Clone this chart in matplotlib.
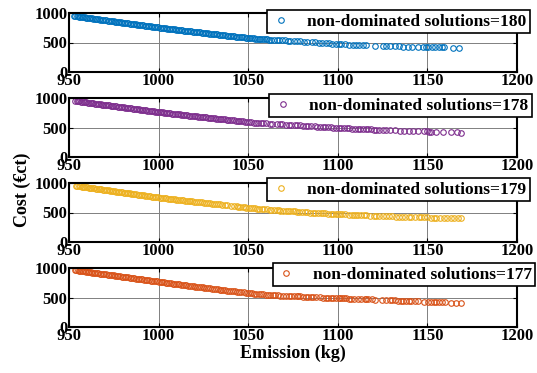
import matplotlib
matplotlib.use('Agg')
import matplotlib.pyplot as plt

# series 1 (blue), 180 solutions
emission_1 = [953.0, 953.6, 954.3, 955.1, 955.8, 956.4, 957.2, 958.0, 958.7, 959.5,
              960.3, 961.0, 961.9, 962.6, 963.4, 964.3, 965.0, 965.8, 966.7, 967.5,
              968.2, 969.1, 969.9, 970.8, 971.5, 972.3, 973.2, 974.0, 974.9, 975.6,
              976.4, 977.3, 978.1, 979.0, 979.8, 980.5, 981.4, 982.2, 983.1, 983.9,
              984.7, 985.6, 986.3, 987.2, 988.0, 988.9, 989.7, 990.5, 991.4, 992.2,
              993.0, 993.9, 994.7, 995.5, 996.4, 997.2, 998.0, 998.9, 999.7, 1000.6,
              1001.4, 1002.2, 1003.1, 1003.9, 1004.8, 1005.6, 1006.4, 1007.3, 1008.1, 1009.0,
              1009.8, 1010.6, 1011.5, 1012.3, 1013.2, 1014.0, 1014.8, 1015.7, 1016.5, 1017.4,
              1018.2, 1019.0, 1019.9, 1020.7, 1021.6, 1022.4, 1023.3, 1024.1, 1025.0, 1025.8,
              1026.7, 1027.5, 1028.4, 1029.2, 1030.1, 1031.0, 1031.8, 1032.7, 1033.5, 1034.4,
              1035.3, 1036.1, 1037.0, 1037.9, 1038.8, 1039.6, 1040.5, 1041.4, 1042.3, 1043.1,
              1044.0, 1044.9, 1045.8, 1046.7, 1047.6, 1048.5, 1049.4, 1050.3, 1051.2, 1052.1,
              1053.0, 1054.0, 1054.9, 1055.8, 1056.8, 1057.7, 1058.7, 1059.7, 1060.7, 1061.8,
              1063.0, 1064.5, 1066.0, 1067.2, 1068.8, 1070.5, 1072.0, 1073.6, 1075.5, 1077.0,
              1079.0, 1081.2, 1083.0, 1085.5, 1087.0, 1089.5, 1091.0, 1093.5, 1095.0, 1097.0,
              1099.0, 1100.5, 1102.0, 1104.0, 1106.0, 1108.5, 1110.0, 1112.0, 1114.0, 1116.0,
              1121.0, 1125.0, 1127.0, 1129.0, 1132.0, 1134.0, 1136.5, 1139.0, 1141.5, 1144.5,
              1147.5, 1150.5, 1152.5, 1154.5, 1156.5, 1159.0, 1164.5, 1167.5, 1158.0, 1149.0]
cost_1 = [950, 947, 944, 941, 938, 935, 932, 928, 925, 922,
          918, 915, 911, 908, 905, 901, 898, 894, 891, 887,
          884, 880, 877, 873, 870, 867, 863, 860, 856, 853,
          850, 846, 843, 839, 836, 833, 829, 826, 823, 819,
          816, 813, 810, 806, 803, 799, 796, 793, 789, 786,
          783, 779, 776, 773, 769, 766, 763, 759, 756, 753,
          750, 747, 743, 740, 737, 734, 731, 727, 724, 721,
          718, 715, 712, 709, 706, 703, 700, 697, 694, 691,
          688, 685, 682, 679, 676, 673, 670, 667, 664, 661,
          657, 654, 651, 648, 645, 642, 639, 636, 633, 630,
          627, 624, 621, 618, 615, 612, 609, 606, 603, 600,
          597, 595, 592, 589, 586, 583, 580, 577, 574, 571,
          568, 566, 563, 561, 559, 557, 555, 553, 551, 549,
          547, 545, 542, 540, 537, 534, 531, 528, 524, 521,
          517, 513, 509, 504, 501, 496, 493, 488, 485, 481,
          477, 474, 472, 469, 466, 463, 461, 458, 456, 453,
          447, 443, 441, 439, 436, 434, 432, 430, 428, 426,
          424, 422, 421, 419, 418, 417, 413, 412, 416, 423]

# series 2 (purple), 178 solutions
emission_2 = [953.5, 954.2, 955.0, 955.7, 956.5, 957.3, 958.1, 958.8, 959.6, 960.4,
              961.2, 962.0, 962.8, 963.6, 964.4, 965.2, 966.0, 966.8, 967.6, 968.4,
              969.2, 970.0, 970.8, 971.6, 972.4, 973.2, 974.0, 974.8, 975.7, 976.5,
              977.3, 978.1, 978.9, 979.7, 980.6, 981.4, 982.2, 983.0, 983.9, 984.7,
              985.5, 986.3, 987.2, 988.0, 988.8, 989.7, 990.5, 991.3, 992.2, 993.0,
              993.8, 994.7, 995.5, 996.4, 997.2, 998.0, 998.9, 999.7, 1000.6, 1001.4,
              1002.3, 1003.1, 1004.0, 1004.8, 1005.7, 1006.5, 1007.4, 1008.2, 1009.1, 1010.0,
              1010.8, 1011.7, 1012.5, 1013.4, 1014.3, 1015.1, 1016.0, 1016.9, 1017.8, 1018.6,
              1019.5, 1020.4, 1021.3, 1022.2, 1023.1, 1024.0, 1024.9, 1025.8, 1026.7, 1027.6,
              1028.5, 1029.4, 1030.4, 1031.3, 1032.2, 1033.2, 1034.1, 1035.1, 1036.0, 1037.0,
              1038.0, 1039.0, 1040.0, 1041.0, 1042.0, 1043.0, 1044.1, 1045.1, 1046.2, 1047.3,
              1048.4, 1049.5, 1050.6, 1051.8, 1053.0, 1054.3, 1055.6, 1057.0,
              1058.5, 1060.0, 1062.0, 1063.5, 1066.0, 1067.5, 1069.0, 1071.0, 1072.5, 1074.0,
              1076.0, 1077.5, 1079.0, 1080.5, 1082.0, 1083.5, 1085.0, 1087.0, 1088.5, 1090.0,
              1091.5, 1093.0, 1094.5, 1096.0, 1097.5, 1099.0, 1100.5, 1102.0, 1103.5, 1105.0,
              1106.5, 1108.0, 1109.5, 1111.0, 1112.5, 1114.0, 1115.5, 1117.0, 1118.5, 1120.0,
              1121.5, 1123.0, 1125.0, 1127.0, 1129.0, 1132.0, 1134.5, 1137.0, 1139.5, 1142.0,
              1145.0, 1148.0, 1149.5, 1151.0, 1152.0, 1155.0, 1158.5, 1163.0, 1166.5, 1168.5]
cost_2 = [951, 948, 945, 942, 939, 936, 932, 929, 926, 923,
          919, 916, 913, 909, 906, 903, 899, 896, 893, 889,
          886, 883, 879, 876, 873, 869, 866, 863, 859, 856,
          853, 849, 846, 843, 839, 836, 833, 829, 826, 823,
          820, 816, 813, 810, 806, 803, 800, 797, 793, 790,
          787, 784, 780, 777, 774, 771, 767, 764, 761, 758,
          755, 752, 748, 745, 742, 739, 736, 733, 730, 727,
          724, 721, 718, 715, 712, 709, 706, 703, 700, 697,
          694, 691, 688, 685, 682, 679, 676, 673, 670, 667,
          664, 661, 658, 655, 652, 649, 646, 643, 640, 637,
          633, 630, 626, 623, 619, 616, 612, 609, 605, 602,
          598, 595, 591, 588, 584, 581, 578, 575,
          572, 569, 565, 562, 558, 555, 552, 549, 546, 543,
          540, 537, 534, 531, 528, 525, 522, 519, 516, 513,
          510, 507, 504, 502, 499, 497, 494, 492, 489, 487,
          485, 482, 480, 477, 475, 473, 471, 469, 467, 465,
          463, 461, 458, 456, 453, 450, 447, 445, 443, 440,
          437, 434, 433, 431, 430, 427, 424, 420, 417, 415]

# series 3 (yellow), 179 solutions
emission_3 = [954.0, 954.7, 955.4, 956.2, 957.0, 957.7, 958.5, 959.3, 960.1, 960.9,
              961.7, 962.5, 963.3, 964.1, 964.9, 965.7, 966.5, 967.3, 968.1, 968.9,
              969.7, 970.6, 971.4, 972.2, 973.0, 973.9, 974.7, 975.5, 976.4, 977.2,
              978.0, 978.9, 979.7, 980.6, 981.4, 982.3, 983.1, 984.0, 984.8, 985.7,
              986.5, 987.4, 988.3, 989.1, 990.0, 990.9, 991.7, 992.6, 993.5, 994.4,
              995.3, 996.2, 997.0, 997.9, 998.8, 999.7, 1000.6, 1001.5, 1002.4, 1003.4,
              1004.3, 1005.2, 1006.1, 1007.1, 1008.0, 1009.0, 1009.9, 1010.9, 1011.8, 1012.8,
              1013.8, 1014.8, 1015.8, 1016.8, 1017.8, 1018.8, 1019.9, 1020.9, 1022.0, 1023.0,
              1024.1, 1025.2, 1026.3, 1027.4, 1028.5, 1029.6, 1030.8, 1032.0, 1033.2, 1034.4,
              1035.6, 1036.9, 1038.2,
              1040.5, 1042.0, 1043.5, 1044.5, 1045.5, 1047.0, 1048.0, 1049.0, 1050.5, 1051.5,
              1052.5, 1054.0, 1055.0, 1056.0, 1057.5, 1059.0, 1060.5, 1062.0, 1063.0, 1064.5,
              1066.0, 1067.0, 1068.0, 1069.5, 1071.0, 1072.0, 1073.5, 1075.0, 1076.0, 1077.0,
              1078.5, 1080.0, 1081.5, 1083.0, 1084.5, 1086.0, 1087.5, 1089.0, 1090.5, 1092.0,
              1093.0, 1094.5, 1096.0, 1097.5, 1099.0, 1100.0, 1101.0, 1102.5, 1104.0, 1106.0,
              1108.0, 1109.0, 1110.0, 1111.5, 1113.0, 1114.5, 1116.0, 1118.0, 1120.0, 1121.5,
              1123.0, 1125.0, 1127.0, 1128.5, 1130.0, 1132.5, 1134.0, 1136.0, 1137.5, 1139.5,
              1141.0, 1143.0, 1145.5, 1148.0, 1150.0, 1152.0, 1153.5, 1155.0, 1157.0, 1159.0,
              1161.0, 1163.0, 1165.0, 1167.0, 1169.0, 1146.5]
cost_3 = [952, 949, 946, 943, 939, 936, 933, 929, 926, 922,
          919, 915, 912, 908, 905, 901, 898, 894, 891, 887,
          884, 880, 877, 873, 870, 866, 862, 859, 855, 852,
          848, 844, 841, 837, 834, 830, 826, 823, 819, 815,
          812, 808, 804, 801, 797, 793, 790, 786, 782, 778,
          774, 771, 767, 763, 759, 755, 752, 749, 746, 742,
          739, 736, 733, 729, 726, 723, 720, 716, 713, 710,
          706, 703, 699, 696, 692, 689, 685, 682, 678, 675,
          671, 667, 663, 660, 656, 652, 648, 644, 640, 636,
          632, 628, 623,
          612, 607, 602, 599, 595, 590, 587, 583, 578, 575,
          572, 568, 565, 562, 558, 555, 551, 547, 545, 541,
          538, 536, 533, 530, 527, 525, 522, 519, 517, 515,
          512, 509, 506, 503, 500, 497, 495, 492, 490, 487,
          485, 483, 481, 478, 476, 475, 473, 471, 469, 466,
          463, 462, 460, 458, 456, 454, 452, 449, 447, 445,
          443, 440, 438, 437, 435, 432, 431, 429, 427, 425,
          424, 422, 420, 418, 416, 414, 413, 412, 410, 408,
          407, 405, 404, 402, 401, 419]

# series 4 (orange), 177 solutions
emission_4 = [953.2, 954.0, 954.8, 955.6, 956.4, 957.2, 958.0, 958.9, 959.7, 960.5,
              961.4, 962.2, 963.0, 963.9, 964.7, 965.6, 966.4, 967.3, 968.1, 969.0,
              969.8, 970.7, 971.5, 972.4, 973.3, 974.1, 975.0, 975.9, 976.7, 977.6,
              978.5, 979.4, 980.2, 981.1, 982.0, 982.9, 983.8, 984.7, 985.6, 986.5,
              987.4, 988.3, 989.2, 990.1, 991.0, 991.9, 992.8, 993.7, 994.6, 995.6,
              996.5, 997.4, 998.3, 999.3, 1000.2, 1001.1, 1002.1, 1003.0, 1004.0, 1004.9,
              1005.9, 1006.8, 1007.8, 1008.7, 1009.7, 1010.7, 1011.6, 1012.6, 1013.6, 1014.6,
              1015.5, 1016.5, 1017.5, 1018.5, 1019.5, 1020.5, 1021.5, 1022.5, 1023.6, 1024.6,
              1025.6, 1026.6, 1027.7, 1028.7, 1029.8, 1030.8, 1031.9, 1032.9, 1034.0, 1035.1,
              1036.2, 1037.2, 1038.3, 1039.4, 1040.5, 1041.7, 1042.8, 1043.9, 1045.1, 1046.2,
              1047.4, 1048.6, 1049.7, 1050.9, 1052.1, 1053.4, 1054.6, 1055.9, 1057.1, 1058.4,
              1059.7, 1061.0, 1062.4, 1063.7, 1065.1, 1066.5, 1068.0, 1069.5, 1071.0, 1072.5,
              1074.0, 1075.5, 1077.0, 1078.0, 1079.0, 1080.5, 1082.0, 1083.5, 1085.0, 1086.0,
              1088.0, 1090.0, 1092.0, 1093.5, 1094.5, 1096.0, 1097.5, 1099.0, 1100.5, 1101.5,
              1102.5, 1103.5, 1104.5, 1106.0, 1107.5, 1109.0, 1111.0, 1113.0, 1115.0, 1116.0,
              1117.0, 1119.0, 1121.0, 1124.5, 1127.0, 1129.0, 1130.5, 1132.0, 1133.5, 1135.0,
              1136.5, 1138.0, 1139.5, 1141.0, 1143.0, 1145.0, 1148.0, 1150.5, 1152.0, 1153.5,
              1155.0, 1156.5, 1158.0, 1160.0, 1163.0, 1166.0, 1168.5]
cost_4 = [965, 961, 958, 955, 951, 948, 944, 941, 937, 934,
          930, 927, 923, 919, 916, 912, 909, 905, 902, 898,
          895, 891, 888, 884, 880, 877, 873, 870, 866, 862,
          859, 855, 852, 848, 844, 840, 837, 833, 829, 826,
          822, 818, 814, 811, 807, 803, 799, 795, 792, 788,
          784, 780, 776, 772, 768, 764, 760, 756, 752, 748,
          744, 740, 736, 733, 729, 725, 721, 717, 713, 709,
          705, 702, 698, 694, 690, 686, 682, 678, 674, 670,
          666, 662, 658, 654, 650, 646, 642, 638, 634, 630,
          626, 622, 618, 614, 610, 606, 602, 598, 594, 590,
          586, 582, 578, 574, 570, 566, 562, 558, 554, 551,
          549, 546, 543, 541, 538, 536, 533, 531, 529, 526,
          524, 522, 520, 518, 517, 515, 513, 511, 509, 508,
          505, 502, 500, 498, 497, 495, 493, 491, 489, 488,
          487, 486, 485, 483, 481, 479, 477, 474, 472, 471,
          470, 467, 465, 461, 458, 455, 453, 451, 449, 447,
          445, 444, 442, 440, 438, 436, 432, 429, 427, 426,
          424, 422, 421, 419, 414, 409, 402]

emissions = [emission_1, emission_2, emission_3, emission_4]
costs = [cost_1, cost_2, cost_3, cost_4]
labels = ['non-dominated solutions=180', 'non-dominated solutions=178',
          'non-dominated solutions=179', 'non-dominated solutions=177']
colors = ['#0072BD', '#7E2F8E', '#EDB120', '#D95319']
x_ticks = [950, 1000, 1050, 1100, 1150, 1200]
y_ticks = [0, 500, 1000]

plt.rcParams['font.family'] = ['Liberation Serif', 'DejaVu Serif']
plt.rcParams['font.weight'] = 'bold'

W, H = 537, 373
fig = plt.figure(figsize=(W / 100, H / 100), dpi=100)

# legend boxes (right edge, top) in pixels
leg_pos = [(530, 10), (532, 94), (530, 178), (535, 263)]

for i in range(4):
    top = 13 + 85 * i
    ax = fig.add_axes([69 / W, 1 - (top + 59) / H, 448 / W, 59 / H])
    ax.plot(emissions[i], costs[i], 'o', mfc='none', mec=colors[i],
            ms=4, mew=0.8, label=labels[i])
    ax.set_xlim(950, 1200)
    ax.set_ylim(0, 1000)
    ax.set_xticks(x_ticks)
    ax.set_yticks(y_ticks)
    ax.tick_params(direction='in', length=3, width=0.8, top=True, right=True,
                   labelsize=12, pad=1)
    for lab in ax.get_xticklabels() + ax.get_yticklabels():
        lab.set_fontweight('bold')
    ax.grid(True, color='#808080', linewidth=0.7)
    for s in ax.spines.values():
        s.set_linewidth(1.5)
    rx, ty = leg_pos[i]
    leg = ax.legend(loc='upper right', bbox_to_anchor=(rx / W, 1 - ty / H),
                    bbox_transform=fig.transFigure, fontsize=12.5,
                    frameon=True, fancybox=False, framealpha=1,
                    edgecolor='black', borderaxespad=0, borderpad=0.2,
                    handlelength=1.2, handletextpad=0.9,
                    prop={'weight': 'bold', 'size': 12.5})
    leg.get_frame().set_linewidth(1.2)
    leg.set_zorder(10)

fig.text(22 / W, 1 - 190 / H, 'Cost (€ct)', rotation=90, ha='center',
         va='center', fontsize=13, fontweight='bold')
fig.text(293 / W, 1 - 353 / H, 'Emission (kg)', ha='center', va='center',
         fontsize=13, fontweight='bold')

fig.savefig('out.png', dpi=100)
